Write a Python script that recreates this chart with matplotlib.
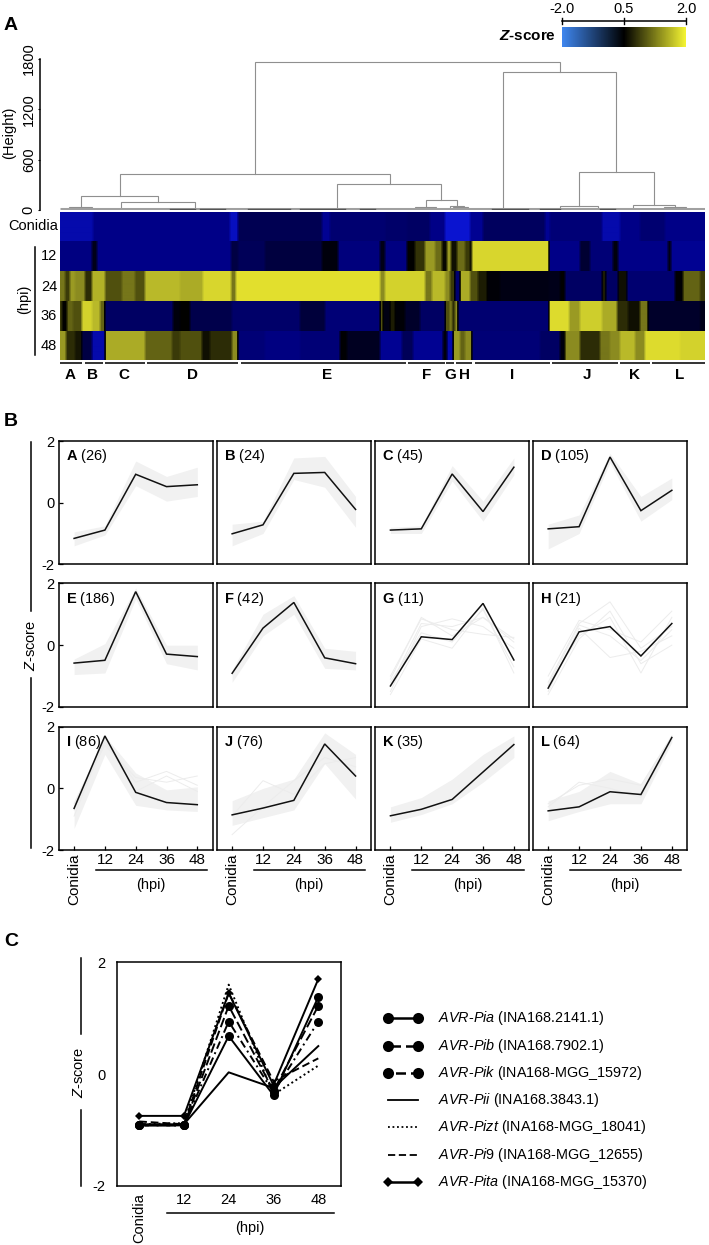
import numpy as np
import matplotlib
matplotlib.use('Agg')
import matplotlib.pyplot as plt
from matplotlib.colors import LinearSegmentedColormap

plt.rcParams['font.family'] = ['Liberation Sans', 'DejaVu Sans']
plt.rcParams['mathtext.fontset'] = 'custom'
plt.rcParams['mathtext.rm'] = 'Liberation Sans'
plt.rcParams['mathtext.it'] = 'Liberation Sans:italic'
plt.rcParams['mathtext.bf'] = 'Liberation Sans:bold'
plt.rcParams['mathtext.bfit'] = 'Liberation Sans:italic:bold'

W, H = 709, 1245

# heatmap: column edges and z values, one pair per row
heat_labels = ['Conidia', '12', '24', '36', '48']
edges_con = [0, 33, 170, 178, 262, 270, 325, 347, 370, 385, 410, 423, 485, 490, 542, 560, 580, 605, 645]
vals_con = [-1.2, -1.0, -1.3, -0.55, -1.05, -0.8, -0.75, -0.7, -1.0, -1.4, -1.05, -0.65, -1.05, -0.85, -1.2, -1.0, -0.8, -1.0]
edges_12 = [0, 32, 37, 171, 178, 205, 262, 278, 320, 325, 347, 355, 365, 375, 382, 387, 391, 397, 405, 410, 412, 489, 520, 530, 553, 558, 608, 611, 645]
vals_12 = [-0.95, 0.1, -1.0, -0.4, -0.6, -0.35, 0.3, -0.9, 0.15, -0.95, 0.5, 0.85, 1.4, 1.15, 0.55, 1.4, 0.6, 1.15, 0.9, 0.5, 1.85, -1.0, -0.2, -0.85, 0.3, -1.0, 0.2, -1.05]
edges_24 = [0, 5, 10, 15, 25, 32, 45, 62, 75, 85, 120, 143, 171, 176, 320, 325, 365, 372, 385, 390, 395, 400, 410, 418, 427, 440, 489, 500, 505, 542, 546, 558, 567, 615, 623, 640, 645]
vals_24 = [1.2, 0.9, 1.4, 1.3, 0.8, 1.55, 1.0, 1.2, 1.0, 1.6, 1.5, 1.85, 1.2, 1.95, 1.3, 1.8, 1.2, 1.6, 1.3, 0.9, -0.8, 1.5, 1.0, 0.7, 0.4, 0.2, 0.1, 0.5, -0.7, 0.7, -0.7, 0.6, -0.8, 0.45, 1.1, 0.9]
edges_36 = [0, 2, 7, 13, 22, 32, 40, 45, 113, 120, 130, 172, 240, 265, 320, 323, 330, 335, 345, 360, 385, 390, 392, 395, 398, 489, 509, 520, 542, 557, 568, 580, 588, 640, 645]
vals_36 = [0.9, 0.5, 1.1, 1.0, 1.8, 1.6, 1.1, -0.7, 0.3, 0.5, -0.5, -0.75, -0.3, -0.85, 1.0, 0.2, 0.7, 0.4, -0.1, -0.7, 1.0, 1.3, 0.8, 1.3, -0.8, 1.9, 1.4, 1.75, 1.5, 0.8, 0.6, 1.2, -0.1, 0.1]
edges_48 = [0, 6, 15, 22, 32, 45, 85, 112, 120, 142, 150, 172, 178, 205, 240, 280, 287, 320, 342, 353, 383, 387, 393, 400, 405, 412, 480, 500, 505, 520, 540, 550, 560, 575, 585, 620, 645]
vals_48 = [1.4, 0.8, 0.65, -0.4, -1.2, 1.5, 1.1, 0.9, 1.0, 0.6, 0.8, 1.3, -0.85, -0.95, -0.85, 0.45, 0.0, -1.05, -0.6, -1.05, 0.3, -1.2, 1.4, 1.1, 1.3, -0.85, -0.7, 0.3, 1.3, 0.8, 1.2, 1.3, 1.6, 1.3, 1.9, 1.8]
heat_rows = [(edges_con, vals_con), (edges_12, vals_12), (edges_24, vals_24), (edges_36, vals_36), (edges_48, vals_48)]

# cluster bars under the heatmap
cluster_names = list('ABCDEFGHIJKL')
cluster_start = [0, 24.5, 44.5, 87, 180.5, 348, 386, 396, 414.5, 492, 560, 591.5]
cluster_end = [21.5, 43, 84.5, 178, 345.5, 384.5, 394, 412, 489.5, 558, 589.5, 645]
cluster_label_x = [10, 33, 63.6, 132, 267, 367, 390, 404.5, 452, 527, 575, 620]

# dendrogram: left x, right x, merge height, height of left and right child
dend_x0 = [194.5, 443, 59.5, 518.6, 277, 21, 61, 9, 365.5, 354.5, 390, 500, 573, 393, 604]
dend_x1 = [499.5, 556, 329.5, 594, 381, 98, 135, 32, 397, 376, 404, 538, 615, 408, 626]
dend_h = [1770, 1640, 430, 450, 310, 170, 95, 40, 120, 40, 50, 45, 60, 30, 30]
dend_h0 = [430, 20, 170, 45, 15, 40, 15, 15, 40, 15, 30, 15, 15, 15, 15]
dend_h1 = [1640, 450, 310, 60, 120, 95, 15, 15, 50, 15, 15, 15, 30, 15, 15]
dend_dark_x0 = [110, 140, 188, 240, 300, 432, 480, 540]
dend_dark_x1 = [135, 165, 230, 285, 315, 468, 500, 555]

# panel B: mean profile of every cluster
time_labels = ['Conidia', '12', '24', '36', '48']
panel_counts = [26, 24, 45, 105, 186, 42, 11, 21, 86, 76, 35, 64]
mean_A = [-1.16, -0.89, 0.92, 0.52, 0.58]
mean_B = [-1.01, -0.72, 0.95, 0.98, -0.22]
mean_C = [-0.89, -0.85, 0.93, -0.29, 1.15]
mean_D = [-0.85, -0.78, 1.48, -0.26, 0.40]
mean_E = [-0.58, -0.49, 1.73, -0.29, -0.37]
mean_F = [-0.91, 0.55, 1.38, -0.41, -0.60]
mean_G = [-1.32, 0.27, 0.18, 1.35, -0.48]
mean_H = [-1.39, 0.43, 0.60, -0.35, 0.70]
mean_I = [-0.65, 1.70, -0.13, -0.46, -0.53]
mean_J = [-0.86, -0.64, -0.39, 1.44, 0.40]
mean_K = [-0.89, -0.68, -0.36, 0.53, 1.42]
mean_L = [-0.73, -0.60, -0.11, -0.20, 1.65]
panel_means = [mean_A, mean_B, mean_C, mean_D, mean_E, mean_F, mean_G, mean_H, mean_I, mean_J, mean_K, mean_L]

# grey spread behind the means (G and H are sparse, so only single lines there)
high_vals = [[-0.95, -0.75, 1.35, 0.85, 1.15], [-0.7, -0.6, 1.45, 1.5, 0.2], [-0.8, -0.75, 1.2, 0.05, 1.45],
             [-0.7, -0.4, 1.6, 0.2, 0.8], [-0.45, 0.05, 1.85, 0.0, 0.0], [-0.8, 1.0, 1.6, -0.1, -0.2],
             None, None, [-0.4, 1.7, 0.5, -0.05, 0.05],
             [-0.4, 0.0, 0.3, 1.8, 1.1], [-0.6, -0.3, 0.3, 1.1, 1.7], [-0.4, -0.1, 0.55, 0.15, 1.75]]
low_vals = [[-1.4, -1.05, 0.55, 0.05, 0.2], [-1.4, -1.0, 0.75, 0.5, -0.8], [-1.0, -1.0, 0.7, -0.6, 0.9],
            [-1.5, -1.0, 1.3, -0.6, 0.1], [-0.95, -0.9, 1.5, -0.6, -0.8], [-1.2, 0.3, 1.0, -0.75, -0.8],
            None, None, [-1.3, 1.1, -0.55, -0.7, -0.75],
            [-1.2, -0.95, -0.7, 0.8, -0.35], [-1.1, -0.85, -0.5, 0.2, 1.0], [-1.05, -0.75, -0.5, -0.5, 1.5]]
lines_G = [[-1.1, 0.9, 0.3, 0.9, 0.2], [-1.5, 0.6, 0.85, 0.6, -0.1], [-1.2, 0.4, 0.1, 1.15, -0.7],
           [-1.0, 0.85, 0.5, 0.35, 0.25], [-1.6, 0.2, -0.1, 1.2, -0.9], [-1.3, 0.7, 0.6, 0.9, 0.1]]
lines_H = [[-1.2, 0.7, 1.4, -0.1, 0.6], [-1.5, 0.55, -0.4, -0.2, 0.3], [-1.3, 0.3, 0.9, -0.9, 0.9],
           [-1.0, 0.8, 0.5, 0.1, 1.1], [-1.6, 0.2, 1.1, -0.6, 0.0], [-1.3, 0.65, 0.3, -0.5, 0.5]]
lines_I = [[-0.7, 1.5, 0.2, 0.55, 0.1], [-0.5, 1.4, 0.35, 0.2, 0.4], [-0.9, 1.6, -0.1, 0.4, -0.1]]
lines_J = [[-1.5, -0.6, 0.25, 1.0, 0.7], [-0.9, 0.25, -0.2, 0.8, 1.0]]
lines_L = [[-0.6, 0.2, 0.0, -0.3, 1.6], [-0.5, 0.1, 0.3, 0.1, 1.7]]
panel_lines = {'G': lines_G, 'H': lines_H, 'I': lines_I, 'J': lines_J, 'L': lines_L}

# panel C: AVR genes
avr_names = ['Pia', 'Pib', 'Pik', 'Pii', 'Pizt', 'Pi9', 'Pita']
avr_ids = ['INA168.2141.1', 'INA168.7902.1', 'INA168-MGG_15972', 'INA168.3843.1',
           'INA168-MGG_18041', 'INA168-MGG_12655', 'INA168-MGG_15370']
avr_pia = [-0.92, -0.92, 0.68, -0.38, 1.38]
avr_pib = [-0.92, -0.92, 1.22, -0.30, 1.22]
avr_pik = [-0.92, -0.92, 0.94, -0.33, 0.94]
avr_pii = [-0.90, -0.90, 0.03, -0.25, 0.50]
avr_pizt = [-0.90, -0.88, 1.60, -0.37, 0.15]
avr_pi9 = [-0.85, -0.90, 1.45, -0.13, 0.28]
avr_pita = [-0.75, -0.75, 1.45, -0.20, 1.70]
avr_vals = [avr_pia, avr_pib, avr_pik, avr_pii, avr_pizt, avr_pi9, avr_pita]
avr_styles = ['-', (0, (5, 2)), (0, (1, 2, 4, 2)), '-', (0, (1, 1.5)), (0, (4, 2)), '-']
avr_markers = ['o', 'o', 'o', None, None, None, 'D']
avr_sizes = [6.5, 6.5, 6.5, 0, 0, 0, 4]

heat_cmap = LinearSegmentedColormap.from_list('heat', [
    (0.0, '#3a80e8'), (0.15, '#0a14d0'), (0.25, '#000088'), (0.375, '#00004c'), (0.525, '#00001a'),
    (0.625, '#000000'), (0.725, '#3a3a08'), (0.825, '#8a8a20'), (0.925, '#c8c82c'), (1.0, '#e8e42e')])
bar_cmap = LinearSegmentedColormap.from_list('bar', ['#3f86ee', '#000000', '#f4f432'])

fig = plt.figure(figsize=(W / 100, H / 100), dpi=100)


def add_ax(x0, y0, x1, y1):
    return fig.add_axes([x0 / W, 1 - y1 / H, (x1 - x0) / W, (y1 - y0) / H])


# overlay in pixel units for rules and loose labels
ov = add_ax(0, 0, W, H)
ov.set_xlim(0, W)
ov.set_ylim(H, 0)
ov.axis('off')
ov.set_zorder(5)

for letter, y in zip('ABC', [25, 422, 941]):
    ov.text(4, y, letter, fontsize=14, fontweight='bold', va='center')

# colour bar
ax_bar = add_ax(562, 27, 686, 47)
ax_bar.imshow(np.linspace(-2, 2, 200)[None, :], aspect='auto', cmap=bar_cmap, extent=[-2, 2, 0, 1])
ax_bar.axis('off')
ov.plot([562, 686], [20.7, 20.7], color='k', lw=1.1)
for x, s in zip([562, 624, 686], ['-2.0', '0.5', '2.0']):
    ov.plot([x, x], [18, 24], color='k', lw=1)
    ov.text(x, 9, s, fontsize=10.5, ha='center', va='center')
ov.text(556, 36, r'$\mathbfit{Z}$-score', fontsize=11, fontweight='bold', ha='right', va='center')

# dendrogram
ax_d = add_ax(60, 59, 705, 210)
ax_d.set_xlim(0, 645)
ax_d.set_ylim(0, 1800)
for x0, x1, h, h0, h1 in zip(dend_x0, dend_x1, dend_h, dend_h0, dend_h1):
    ax_d.plot([x0, x0, x1, x1], [h0, h, h, h1], color='#8f8f8f', lw=0.8, solid_joinstyle='miter')
ax_d.plot([0, 645], [8, 8], color='#a0a0a0', lw=2.2, solid_capstyle='butt')
for x0, x1 in zip(dend_dark_x0, dend_dark_x1):
    ax_d.plot([x0, x1], [10, 10], color='#555555', lw=1.0)
for s in ['top', 'right', 'bottom']:
    ax_d.spines[s].set_visible(False)
ax_d.spines['left'].set_position(('outward', 14.4))
ax_d.spines['left'].set_linewidth(1.1)
ax_d.set_xticks([])
ax_d.set_yticks([0, 600, 1200, 1800])
ax_d.tick_params(axis='y', length=1.5, width=0.8, pad=1.5, labelsize=10.5, labelrotation=90)
for lab in ax_d.get_yticklabels():
    lab.set_va('center')
ov.text(9, 133, '(Height)', fontsize=10.5, rotation=90, ha='center', va='center')

# heatmap rows
row_tops = [212, 241, 271, 301, 331]
row_bots = [241, 271, 301, 331, 360]
blur = np.ones(3) / 3
for (edges, vals), y0, y1 in zip(heat_rows, row_tops, row_bots):
    ax_h = add_ax(60, y0, 705, y1)
    column = np.repeat(vals, np.diff(edges))
    # the scan in the reference is soft, so take the hard edges off the stripes
    column = np.convolve(np.pad(column, 1, mode='edge'), blur, mode='valid')[None, :]
    ax_h.imshow(column, aspect='auto', cmap=heat_cmap, vmin=-2, vmax=2, interpolation='bilinear')
    ax_h.axis('off')
ov.text(58, 226, heat_labels[0], fontsize=10.5, ha='right', va='center')
for s, y in zip(heat_labels[1:], [256, 287, 316, 346]):
    ov.text(49, y, s, fontsize=10.5, ha='center', va='center')
ov.plot([34.5, 34.5], [247, 355], color='k', lw=1.1)
ov.text(24, 299, '(hpi)', fontsize=10.5, rotation=90, ha='center', va='center')

for name, x0, x1, xl in zip(cluster_names, cluster_start, cluster_end, cluster_label_x):
    ov.plot([60 + x0, 60 + x1], [363, 363], color='#333333', lw=1.4, solid_capstyle='butt')
    ov.text(60 + xl, 375, name, fontsize=11, fontweight='bold', ha='center', va='center')

# panel B small multiples
col_left = [58.7, 216.7, 375, 532.7]
col_right = [212.7, 371, 529.3, 687.3]
row_top = [441, 583.3, 726.7]
row_bot = [564.3, 707, 850]
for i, name in enumerate(cluster_names):
    r, c = i // 4, i % 4
    ax = add_ax(col_left[c], row_top[r], col_right[c], row_bot[r])
    t = np.arange(5)
    if high_vals[i] is not None:
        ax.fill_between(t, low_vals[i], high_vals[i], color='#f1f1f1', lw=0)
    for vals in panel_lines.get(name, []):
        ax.plot(t, vals, color='#ececec', lw=0.7)
    ax.plot(t, panel_means[i], color='#111111', lw=1.1, solid_joinstyle='miter')
    ax.set_xlim(-0.5, 4.5)
    ax.set_ylim(-2, 2)
    for s in ax.spines.values():
        s.set_linewidth(1.1)
    if c == 0:
        ax.set_yticks([-2, 0, 2])
        ax.set_yticklabels(['-2', '0', '2'])
        ax.tick_params(axis='y', direction='in', length=3, width=0.9, pad=3, labelsize=10.5)
    else:
        ax.set_yticks([])
    if r == 2:
        ax.set_xticks(t)
        ax.set_xticklabels(time_labels)
        ax.tick_params(axis='x', direction='in', length=3, width=0.9, pad=2.5, labelsize=11)
        ax.get_xticklabels()[0].set_rotation(90)
        ov.plot([col_left[c] + 37, col_left[c] + 148.5], [870, 870], color='k', lw=1.1)
        ov.text(col_left[c] + 92.5, 885, '(hpi)', fontsize=10.5, ha='center', va='center')
    else:
        ax.set_xticks([])
    ax.text(0.045, 0.875, rf'$\mathbf{{{name}}}$ ({panel_counts[i]})', transform=ax.transAxes,
            fontsize=10.5, va='center')

ov.plot([30.7, 30.7], [442, 611], color='k', lw=1.1)
ov.plot([30.7, 30.7], [678, 848], color='k', lw=1.1)
ov.text(30.7, 645, r'$\mathit{Z}$-score', fontsize=10.5, rotation=90, ha='center', va='center')

# panel C
ax_c = add_ax(116.7, 962.3, 340.7, 1185.7)
for vals, ls, m, ms in zip(avr_vals, avr_styles, avr_markers, avr_sizes):
    ax_c.plot(np.arange(5), vals, color='k', lw=1.4, ls=ls, marker=m, ms=ms, mew=0)
ax_c.set_xlim(-0.5, 4.5)
ax_c.set_ylim(-2, 2)
ax_c.set_yticks([-2, 0, 2])
ax_c.set_yticklabels(['-2', '0', '2'])
ax_c.set_xticks(np.arange(5))
ax_c.set_xticklabels(time_labels)
ax_c.get_xticklabels()[0].set_rotation(90)
ax_c.tick_params(length=0, labelsize=10.5)
ax_c.tick_params(axis='x', pad=5)
ax_c.tick_params(axis='y', pad=8)
for s in ax_c.spines.values():
    s.set_linewidth(1.1)
ov.plot([167, 334], [1213, 1213], color='k', lw=1.1)
ov.text(250, 1228, '(hpi)', fontsize=10.5, ha='center', va='center')
ov.plot([81, 81], [958, 1034], color='k', lw=1.1)
ov.plot([81, 81], [1110, 1186], color='k', lw=1.1)
ov.text(79, 1072, r'$\mathit{Z}$-score', fontsize=10.5, rotation=90, ha='center', va='center')

# legend for panel C, drawn by hand so the keys keep their spacing
leg_y = [1018.3, 1045.7, 1073, 1100.3, 1127.3, 1154.7, 1182]
for y, name, gid, ls, m, ms in zip(leg_y, avr_names, avr_ids, avr_styles, avr_markers, avr_sizes):
    ov.plot([388, 418], [y, y], color='k', lw=1.8 if m else 1.3, ls=ls, marker=m, ms=ms + 1.5 if m else 0, mew=0)
    ov.text(438, y, rf'$\mathit{{AVR}}$-$\mathit{{{name}}}$ ({gid})', fontsize=10.4, va='center')

fig.savefig('out.png', dpi=100)
